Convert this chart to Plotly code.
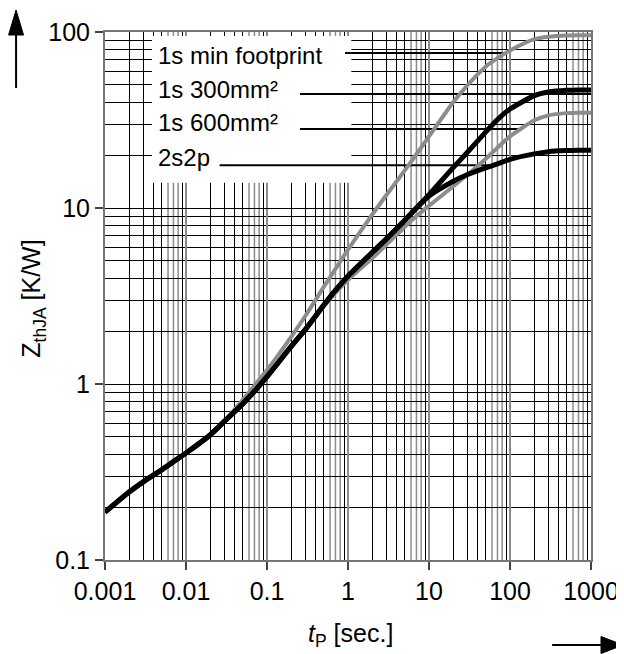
import plotly.graph_objects as go

# ---------------- data ----------------
t_p = [0.001, 0.002, 0.003, 0.005, 0.007, 0.01, 0.02, 0.03, 0.05, 0.07, 0.1, 0.2, 0.3, 0.5, 0.7,
       1, 2, 3, 5, 7, 10, 20, 30, 50, 70, 100, 200, 300, 500, 700, 1000]

z_min_footprint = [0.187, 0.244, 0.279, 0.325, 0.362, 0.405, 0.515, 0.62, 0.81, 0.98, 1.20, 1.86, 2.45, 3.55, 4.5,
                   5.8, 9.2, 11.9, 16.3, 20.2, 25.5, 40, 50, 63.5, 71, 78.5, 91, 94, 95.5, 95.8, 95.8]
z_300mm2 = [0.187, 0.244, 0.279, 0.325, 0.362, 0.405, 0.515, 0.615, 0.77, 0.91, 1.10, 1.64, 2.05, 2.8, 3.4,
            4.1, 5.6, 6.7, 8.5, 10.0, 11.9, 17.0, 20.8, 27.0, 31.8, 36.5, 43.5, 45.6, 46.6, 46.8, 46.8]
z_600mm2 = [0.187, 0.244, 0.279, 0.325, 0.362, 0.405, 0.515, 0.615, 0.77, 0.91, 1.10, 1.64, 2.04, 2.75, 3.3,
            3.9, 5.2, 6.2, 7.8, 9.0, 10.3, 13.3, 15.5, 19.0, 22.0, 25.5, 31.5, 33.6, 34.6, 34.8, 34.8]
z_2s2p = [0.187, 0.244, 0.279, 0.325, 0.362, 0.405, 0.515, 0.615, 0.77, 0.91, 1.10, 1.64, 2.05, 2.8, 3.4,
          4.1, 5.6, 6.7, 8.5, 10.0, 11.7, 14.2, 15.5, 16.9, 17.8, 18.9, 20.3, 20.9, 21.2, 21.3, 21.3]

x_tick_vals = [0.001, 0.01, 0.1, 1, 10, 100, 1000]
x_tick_text = ["0.001", "0.01", "0.1", "1", "10", "100", "1000"]
y_tick_vals = [0.1, 1, 10, 100]
y_tick_text = ["0.1", "1", "10", "100"]

series_names = ["1s min footprint", "1s 300mm²", "1s 600mm²", "2s2p"]
# leader line for each label: start t, end t, level Z
leader_start = [0.92, 0.255, 0.255, 0.026]
leader_end = [94, 1000, 125, 69]
leader_level = [76, 44.4, 28.1, 17.5]
label_y_paper = [0.955, 0.892, 0.8295, 0.7623]

GREY = "#8c8c8c"
FONT = "Liberation Sans, Arial, sans-serif"

fig = go.Figure()
curves = [
    (z_600mm2, GREY, 4),
    (z_min_footprint, GREY, 4),
    (z_2s2p, "black", 5),
    (z_300mm2, "black", 5),
]
for ys, col, w in curves:
    fig.add_trace(go.Scatter(x=t_p, y=ys, mode="lines",
                             line=dict(color=col, width=w, shape="spline", smoothing=0.6),
                             hoverinfo="skip"))

decades_x = [0.001, 0.01, 0.1, 1, 10, 100]
decades_y = [0.1, 1, 10]
x_minor_black = [d * k for d in decades_x for k in (2, 3, 4, 5, 9)]
x_minor_grey = [d * k for d in decades_x for k in (6, 7, 8)]
y_minor = [d * k for d in decades_y for k in range(2, 10)]

shapes = []
for v in x_minor_grey:
    shapes.append(dict(type="line", xref="x", yref="paper", x0=v, x1=v, y0=0, y1=1,
                       layer="below", line=dict(color=GREY, width=1.5)))
# white label box
shapes.append(dict(type="rect", xref="x", yref="y", x0=0.0038, x1=1.1, y0=13.9, y1=95,
                   fillcolor="white", line=dict(width=0), layer="between"))
for xs, xe, lv in zip(leader_start, leader_end, leader_level):
    shapes.append(dict(type="line", xref="x", yref="y", x0=xs, x1=xe, y0=lv, y1=lv,
                       layer="between", line=dict(color="black", width=2)))

# arrows (paper coordinates, outside plot area)
ux = -0.183
shapes.append(dict(type="line", xref="paper", yref="paper", x0=ux, x1=ux, y0=0.894, y1=1.0,
                   line=dict(color="black", width=2)))
shapes.append(dict(type="path", xref="paper", yref="paper",
                   path=f"M {ux-0.0154} 0.9943 L {ux} 1.0417 L {ux+0.0154} 0.9943 Z",
                   fillcolor="black", line=dict(color="black", width=1)))
ry = -0.161
shapes.append(dict(type="line", xref="paper", yref="paper", x0=0.920, x1=1.03, y0=ry, y1=ry,
                   line=dict(color="black", width=2)))
shapes.append(dict(type="path", xref="paper", yref="paper",
                   path=f"M 1.0206 {ry-0.0161} L 1.066 {ry} L 1.0206 {ry+0.0161} Z",
                   fillcolor="black", line=dict(color="black", width=1)))

annotations = []
for name, yp in zip(series_names, label_y_paper):
    annotations.append(dict(text=name, xref="paper", yref="paper", x=0.105, y=yp,
                            xanchor="left", yanchor="middle", showarrow=False,
                            font=dict(size=24, color="black", family=FONT)))
annotations.append(dict(text="Z<sub>thJA</sub> [K/W]", xref="paper", yref="paper",
                        x=-0.148, y=0.495, textangle=-90, showarrow=False,
                        xanchor="center", yanchor="middle",
                        font=dict(size=25, color="black", family=FONT)))
annotations.append(dict(text="<i>t</i><sub>P</sub> [sec.]", xref="paper", yref="paper",
                        x=0.506, y=-0.142, showarrow=False, xanchor="center", yanchor="middle",
                        font=dict(size=25, color="black", family=FONT)))

# the page body adds an 8px offset, so the figure is sized to fit the window
fig.update_layout(
    width=616, height=646,
    margin=dict(l=97, r=33, t=24, b=94),
    paper_bgcolor="white", plot_bgcolor="white",
    showlegend=False,
    font=dict(family=FONT, color="black"),
    shapes=shapes, annotations=annotations,
    xaxis=dict(type="log", range=[-3, 3], tickvals=x_tick_vals, ticktext=x_tick_text,
               automargin=False,
               ticks="outside", ticklen=8, tickwidth=1.5, tickcolor="#444",
               showgrid=True, gridcolor=GREY, gridwidth=1.5,
               minor=dict(tickvals=x_minor_black, showgrid=True, gridcolor="black",
                          gridwidth=1, ticks=""),
               showline=True, linecolor="#777", linewidth=2, mirror=True,
               zeroline=False, tickfont=dict(size=25, family=FONT, color="black")),
    yaxis=dict(type="log", range=[-1, 2], tickvals=y_tick_vals, ticktext=y_tick_text,
               automargin=False,
               ticks="outside", ticklen=8, tickwidth=1.5, tickcolor="#444",
               showgrid=True, gridcolor="black", gridwidth=1,
               minor=dict(tickvals=y_minor, showgrid=True, gridcolor="black",
                          gridwidth=1, ticks=""),
               showline=True, linecolor="#777", linewidth=2, mirror=True,
               zeroline=False, tickfont=dict(size=25, family=FONT, color="black")),
)

fig.write_html("out.html")
